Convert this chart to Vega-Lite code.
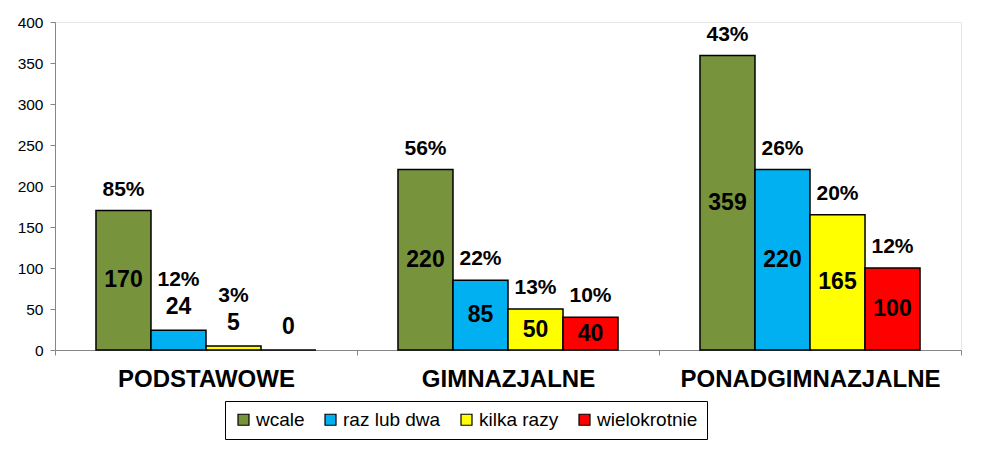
{
  "$schema": "https://vega.github.io/schema/vega-lite/v6.json",
  "autosize": {"type": "none"},
  "width": 906,
  "height": 328,
  "padding": {"left": 55, "top": 22, "right": 25, "bottom": 104},
  "background": "white",
  "config": {
    "font": "Liberation Sans",
    "view": {"stroke": "#e6e6e6", "strokeWidth": 1}
  },
  "data": {
    "values": [
      {"poziom": "PODSTAWOWE", "kategoria": "wcale", "liczba": 170, "procent": "85%"},
      {"poziom": "PODSTAWOWE", "kategoria": "raz lub dwa", "liczba": 24, "procent": "12%"},
      {"poziom": "PODSTAWOWE", "kategoria": "kilka razy", "liczba": 5, "procent": "3%"},
      {"poziom": "PODSTAWOWE", "kategoria": "wielokrotnie", "liczba": 0, "procent": ""},
      {"poziom": "GIMNAZJALNE", "kategoria": "wcale", "liczba": 220, "procent": "56%"},
      {"poziom": "GIMNAZJALNE", "kategoria": "raz lub dwa", "liczba": 85, "procent": "22%"},
      {"poziom": "GIMNAZJALNE", "kategoria": "kilka razy", "liczba": 50, "procent": "13%"},
      {"poziom": "GIMNAZJALNE", "kategoria": "wielokrotnie", "liczba": 40, "procent": "10%"},
      {"poziom": "PONADGIMNAZJALNE", "kategoria": "wcale", "liczba": 359, "procent": "43%"},
      {"poziom": "PONADGIMNAZJALNE", "kategoria": "raz lub dwa", "liczba": 220, "procent": "26%"},
      {"poziom": "PONADGIMNAZJALNE", "kategoria": "kilka razy", "liczba": 165, "procent": "20%"},
      {"poziom": "PONADGIMNAZJALNE", "kategoria": "wielokrotnie", "liczba": 100, "procent": "12%"}
    ]
  },
  "encoding": {
    "x": {
      "field": "poziom",
      "type": "nominal",
      "sort": ["PODSTAWOWE", "GIMNAZJALNE", "PONADGIMNAZJALNE"],
      "scale": {"paddingInner": 0, "paddingOuter": 0},
      "axis": {
        "title": null,
        "labelAngle": 0,
        "labelFont": "Liberation Sans",
        "labelFontSize": 24,
        "labelFontWeight": "bold",
        "labelColor": "black",
        "labelPadding": 12,
        "labelLimit": 500,
        "domainColor": "#868686",
        "tickColor": "#868686",
        "tickSize": 5,
        "tickBand": "extent"
      }
    },
    "xOffset": {
      "field": "kategoria",
      "type": "nominal",
      "sort": ["wcale", "raz lub dwa", "kilka razy", "wielokrotnie"],
      "scale": {"paddingInner": 0, "paddingOuter": 0.745}
    }
  },
  "layer": [
    {
      "mark": {"type": "bar", "stroke": "black", "strokeWidth": 1.5},
      "encoding": {
        "y": {
          "field": "liczba",
          "type": "quantitative",
          "scale": {"domain": [0, 400]},
          "axis": {
            "title": null,
            "values": [0, 50, 100, 150, 200, 250, 300, 350, 400],
            "grid": false,
            "labelFontSize": 15.5,
            "labelColor": "black",
            "labelPadding": 7,
            "domainColor": "#868686",
            "tickColor": "#868686",
            "tickSize": 5
          }
        },
        "color": {
          "field": "kategoria",
          "type": "nominal",
          "sort": ["wcale", "raz lub dwa", "kilka razy", "wielokrotnie"],
          "scale": {
            "domain": ["wcale", "raz lub dwa", "kilka razy", "wielokrotnie"],
            "range": ["#77933C", "#00B0F0", "#FFFF00", "#FF0000"]
          },
          "legend": {
            "title": null,
            "orient": "none",
            "legendX": 170,
            "legendY": 379,
            "direction": "horizontal",
            "strokeColor": "black",
            "fillColor": "white",
            "padding": 9,
            "symbolType": "square",
            "symbolSize": 121,
            "symbolStrokeColor": "black",
            "symbolStrokeWidth": 1.2,
            "labelFontSize": 19,
            "labelColor": "black",
            "labelOffset": 3,
            "columnPadding": 16
          }
        }
      }
    },
    {
      "transform": [
        {"filter": "datum.liczba >= 30"},
        {"calculate": "datum.liczba / 2", "as": "srodek"}
      ],
      "mark": {"type": "text", "fontSize": 23, "fontWeight": "bold", "color": "black", "baseline": "middle"},
      "encoding": {
        "y": {"field": "srodek", "type": "quantitative"},
        "text": {"field": "liczba", "type": "quantitative"}
      }
    },
    {
      "transform": [{"filter": "datum.liczba < 30"}],
      "mark": {"type": "text", "fontSize": 23, "fontWeight": "bold", "color": "black", "baseline": "middle", "dy": -23},
      "encoding": {
        "y": {"field": "liczba", "type": "quantitative"},
        "text": {"field": "liczba", "type": "quantitative"}
      }
    },
    {
      "transform": [{"filter": "datum.liczba >= 30"}],
      "mark": {"type": "text", "fontSize": 21, "fontWeight": "bold", "color": "black", "baseline": "middle", "dy": -21},
      "encoding": {
        "y": {"field": "liczba", "type": "quantitative"},
        "text": {"field": "procent", "type": "nominal"}
      }
    },
    {
      "transform": [{"filter": "datum.liczba < 30 && datum.procent != ''"}],
      "mark": {"type": "text", "fontSize": 21, "fontWeight": "bold", "color": "black", "baseline": "middle", "dy": -50},
      "encoding": {
        "y": {"field": "liczba", "type": "quantitative"},
        "text": {"field": "procent", "type": "nominal"}
      }
    }
  ]
}
